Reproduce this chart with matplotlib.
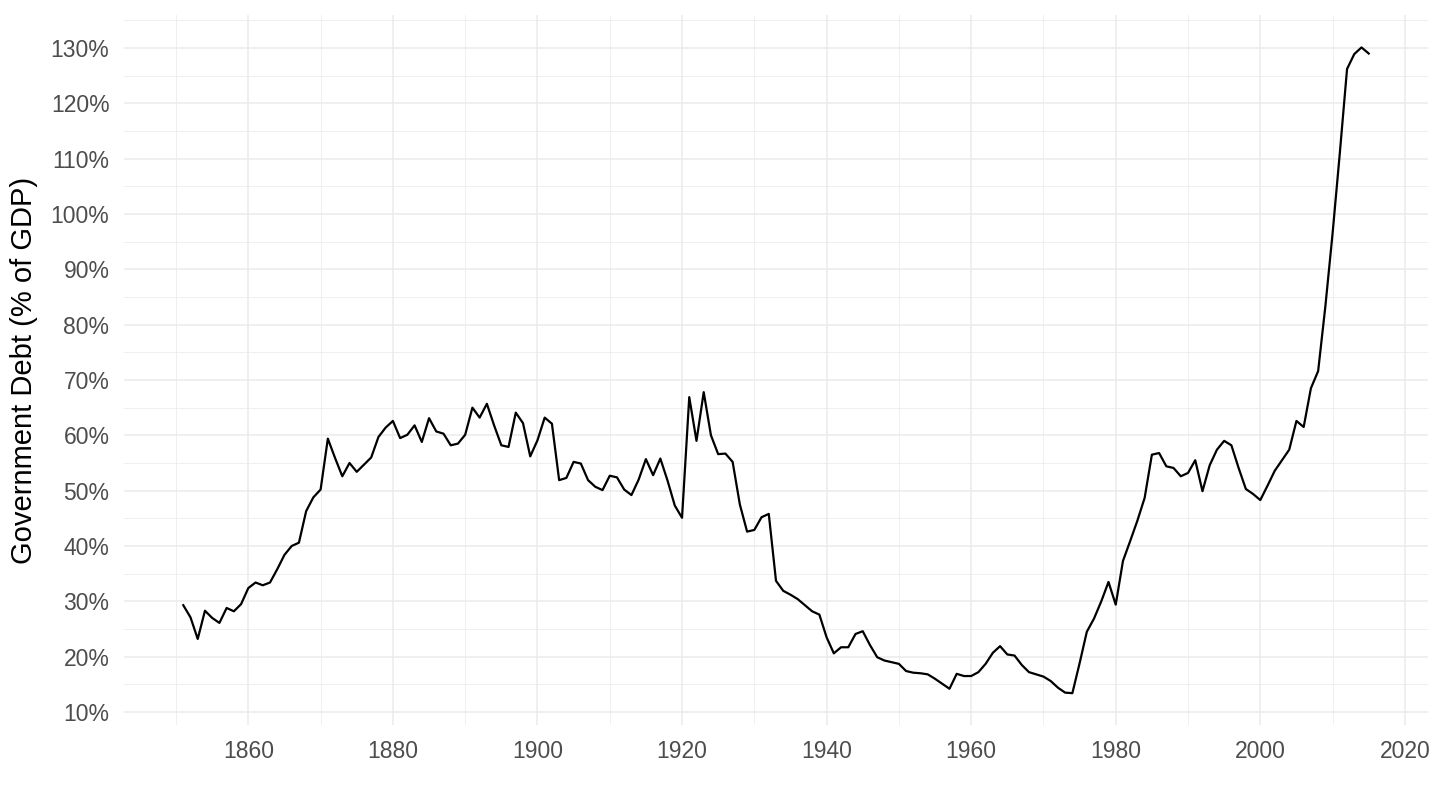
import matplotlib
matplotlib.use('Agg')
import matplotlib.pyplot as plt
from matplotlib.ticker import MultipleLocator, FuncFormatter

plt.rcParams['font.family'] = ['Liberation Sans', 'DejaVu Sans']

# years 1851-2015
years = list(range(1851, 2016))

# government debt, % of GDP
debt = [
    29.3, 27.1, 23.2, 28.3, 27.0, 26.1, 28.8, 28.2, 29.5,              # 1851-1859
    32.4, 33.4, 32.9, 33.4, 35.8, 38.4, 40.0, 40.6, 46.3, 48.8,        # 1860-1869
    50.2, 59.4, 55.9, 52.6, 55.0, 53.4, 54.7, 56.0, 59.7, 61.4,        # 1870-1879
    62.6, 59.5, 60.1, 61.8, 58.8, 63.1, 60.7, 60.3, 58.2, 58.5,        # 1880-1889
    60.1, 65.0, 63.2, 65.7, 61.8, 58.2, 57.9, 64.1, 62.2, 56.2,        # 1890-1899
    59.1, 63.2, 62.1, 51.9, 52.3, 55.2, 54.9, 51.9, 50.7, 50.1,        # 1900-1909
    52.7, 52.4, 50.2, 49.2, 52.0, 55.7, 52.8, 55.8, 51.8, 47.3,        # 1910-1919
    45.1, 66.9, 59.0, 67.8, 60.0, 56.6, 56.7, 55.2, 47.5, 42.6,        # 1920-1929
    42.9, 45.2, 45.8, 33.7, 31.9, 31.2, 30.4, 29.3, 28.2, 27.6,        # 1930-1939
    23.5, 20.6, 21.7, 21.7, 24.1, 24.6, 22.1, 19.9, 19.3, 19.0,        # 1940-1949
    18.7, 17.4, 17.1, 17.0, 16.8, 16.0, 15.1, 14.2, 16.9, 16.5,        # 1950-1959
    16.5, 17.2, 18.7, 20.7, 21.9, 20.4, 20.2, 18.5, 17.2, 16.8,        # 1960-1969
    16.4, 15.6, 14.4, 13.5, 13.4, 18.8, 24.5, 26.9, 30.0, 33.5,        # 1970-1979
    29.4, 37.3, 40.9, 44.6, 48.7, 56.5, 56.8, 54.4, 54.1, 52.6,        # 1980-1989
    53.2, 55.5, 49.9, 54.6, 57.4, 59.0, 58.2, 54.1, 50.3, 49.4,        # 1990-1999
    48.3, 50.9, 53.6, 55.5, 57.4, 62.6, 61.5, 68.5, 71.6, 83.3,        # 2000-2009
    96.5, 111.0, 126.2, 128.9, 130.1, 129.0,                           # 2010-2015
]

fig = plt.figure(figsize=(14.4, 8.1), dpi=100)
ax = fig.add_axes([124 / 1440, 1 - 725 / 810, (1428 - 124) / 1440, (725 - 15) / 810])

ax.plot(years, debt, color='black', linewidth=1.6, zorder=3)

ax.set_xlim(1842.8, 2023.2)
ax.set_ylim(7.65, 135.96)

ax.xaxis.set_major_locator(MultipleLocator(20))
ax.xaxis.set_minor_locator(MultipleLocator(10))
ax.yaxis.set_major_locator(MultipleLocator(10))
ax.yaxis.set_minor_locator(MultipleLocator(5))
ax.yaxis.set_major_formatter(FuncFormatter(lambda v, p: f'{v:.0f}%'))

ax.grid(which='major', color='#EBEBEB', linewidth=1.1)
ax.grid(which='minor', color='#EBEBEB', linewidth=0.55)
ax.set_axisbelow(True)

for s in ax.spines.values():
    s.set_visible(False)

ax.tick_params(which='both', length=0)
ax.tick_params(axis='x', labelsize=16.5, labelcolor='#4D4D4D', pad=11)
ax.tick_params(axis='y', labelsize=16.5, labelcolor='#4D4D4D', pad=10.5)

ax.set_ylabel('Government Debt (% of GDP)', fontsize=21, color='black')
ax.yaxis.label.set_verticalalignment('center')
ax.yaxis.set_label_coords((24 - 124) / 1304, 0.5)

fig.savefig('out.png', dpi=100)
